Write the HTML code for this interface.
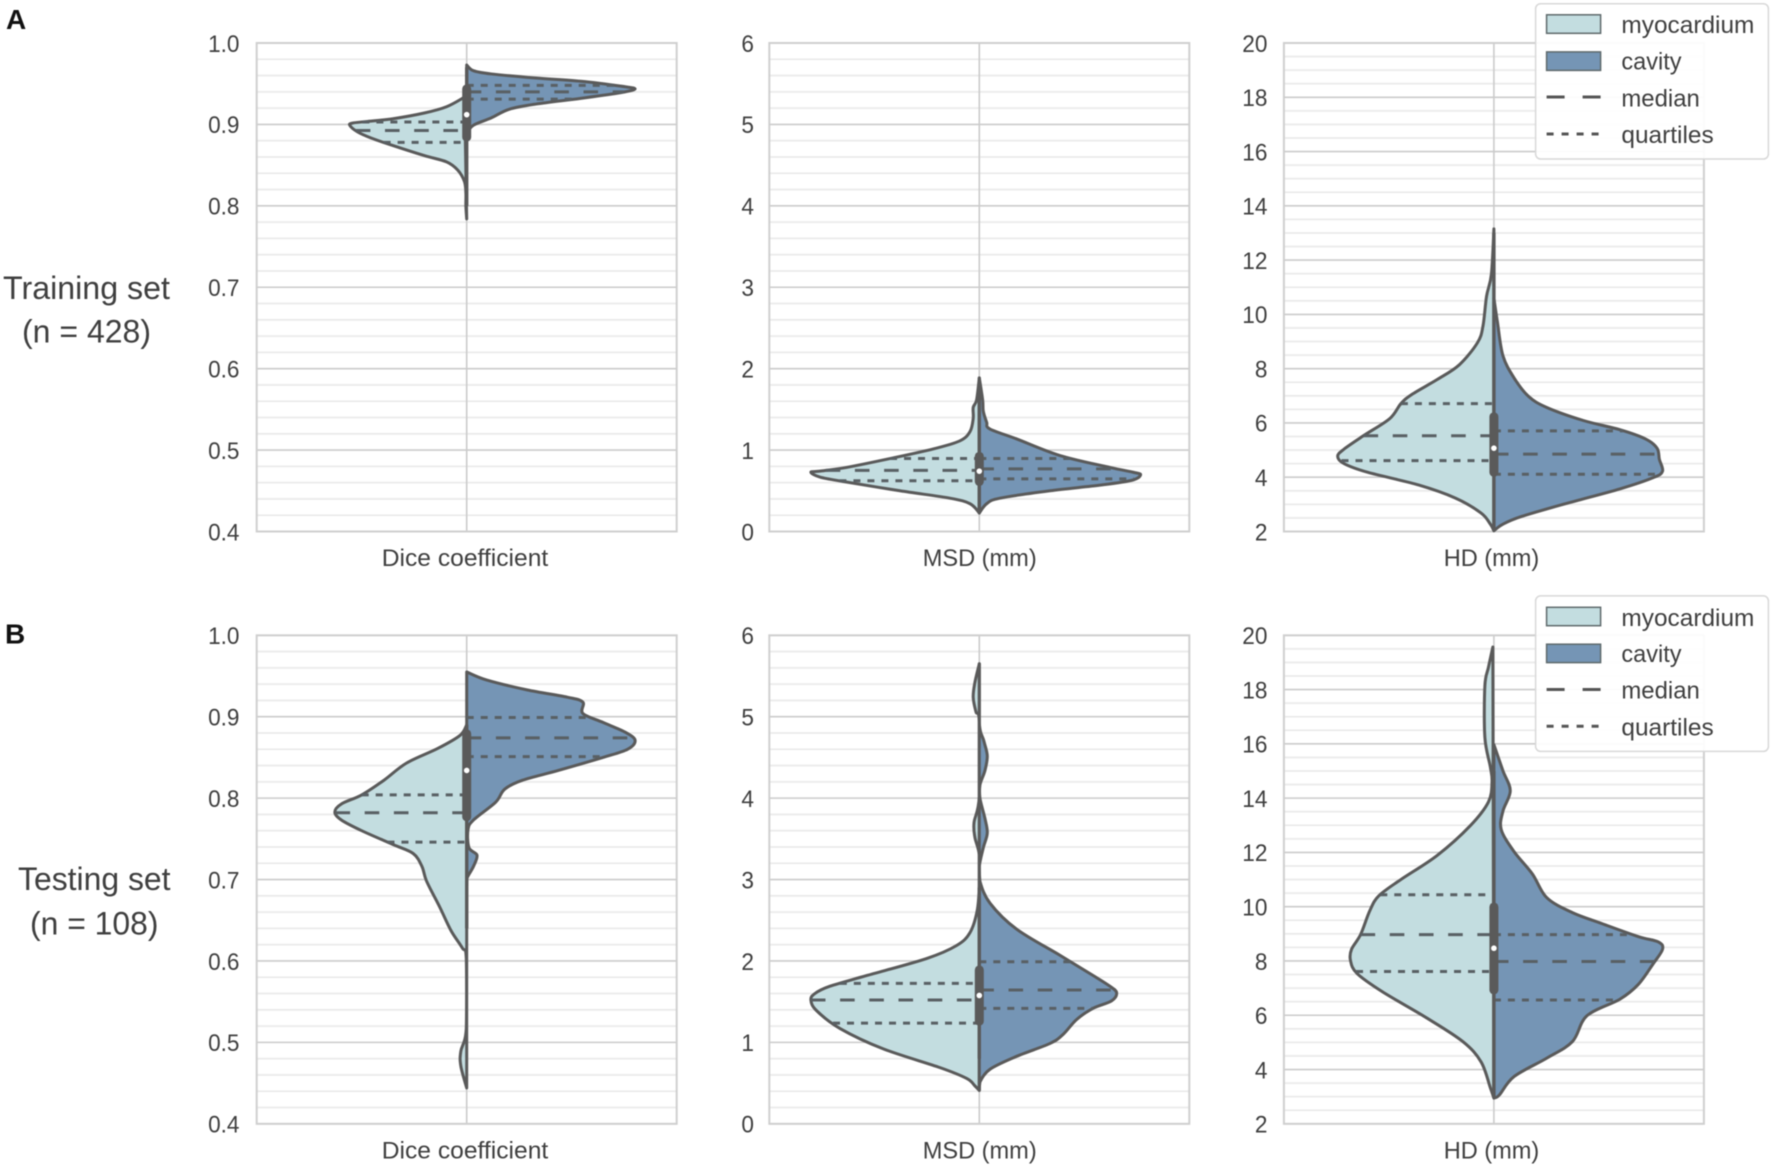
<!DOCTYPE html>
<html lang="en">
<head>
<meta charset="utf-8">
<title>Split violin plots of segmentation metrics</title>
<style>
  html, body { margin: 0; padding: 0; background: #fff; }
  svg { display: block; filter: blur(0.45px); }
  text { font-family: "Liberation Sans", sans-serif; fill: #3f3f3f; }
</style>
</head>
<body>
<svg id="chart" xmlns="http://www.w3.org/2000/svg" width="1772" height="1167" viewBox="0 0 1772 1167">
  <rect width="1772" height="1167" fill="#ffffff"/>
  <g id="panels"></g>

  <text x="6" y="29" font-size="28" font-weight="bold" style="fill:#111">A</text>
  <text x="5" y="643.5" font-size="28" font-weight="bold" style="fill:#111">B</text>

  <text x="3" y="299" font-size="32" textLength="167" lengthAdjust="spacingAndGlyphs">Training set</text>
  <text x="22" y="342.6" font-size="32" textLength="129" lengthAdjust="spacingAndGlyphs">(n = 428)</text>
  <text x="18" y="890" font-size="32" textLength="152.5" lengthAdjust="spacingAndGlyphs">Testing set</text>
  <text x="30" y="934.5" font-size="32" textLength="128.5" lengthAdjust="spacingAndGlyphs">(n = 108)</text>

  <g>
    <rect x="1535.6" y="3.7" width="232.8" height="155.3" rx="5" fill="#ffffff" fill-opacity="0.92" stroke="#d8d8d8" stroke-width="1.5"/>
    <rect x="1546.6" y="14.8" width="54" height="18.5" fill="#c3dde0" stroke="#5f6a6c" stroke-width="1.5"/>
    <rect x="1546.6" y="51.9" width="54" height="18.5" fill="#7595b5" stroke="#5f6a6c" stroke-width="1.5"/>
    <line x1="1546.6" x2="1600.6" y1="97" y2="97" stroke="#555" stroke-width="3" stroke-dasharray="18 18"/>
    <line x1="1546.6" x2="1600.6" y1="134" y2="134" stroke="#555" stroke-width="3" stroke-dasharray="7 8"/>
    <text x="1621.4" y="33" font-size="24" textLength="133" lengthAdjust="spacingAndGlyphs">myocardium</text>
    <text x="1621.4" y="69.6" font-size="24" textLength="60.2" lengthAdjust="spacingAndGlyphs">cavity</text>
    <text x="1621.4" y="106.6" font-size="24" textLength="78.4" lengthAdjust="spacingAndGlyphs">median</text>
    <text x="1621.4" y="143" font-size="24" textLength="92.3" lengthAdjust="spacingAndGlyphs">quartiles</text>
  </g>

  <g>
    <rect x="1535.6" y="595.9" width="232.8" height="155.5" rx="5" fill="#ffffff" fill-opacity="0.92" stroke="#d8d8d8" stroke-width="1.5"/>
    <rect x="1546.6" y="607.3" width="54" height="18.4" fill="#c3dde0" stroke="#5f6a6c" stroke-width="1.5"/>
    <rect x="1546.6" y="644.2" width="54" height="18.4" fill="#7595b5" stroke="#5f6a6c" stroke-width="1.5"/>
    <line x1="1546.6" x2="1600.6" y1="689.5" y2="689.5" stroke="#555" stroke-width="3" stroke-dasharray="18 18"/>
    <line x1="1546.6" x2="1600.6" y1="726.3" y2="726.3" stroke="#555" stroke-width="3" stroke-dasharray="7 8"/>
    <text x="1621.4" y="626" font-size="24" textLength="133" lengthAdjust="spacingAndGlyphs">myocardium</text>
    <text x="1621.4" y="661.8" font-size="24" textLength="60.2" lengthAdjust="spacingAndGlyphs">cavity</text>
    <text x="1621.4" y="698.6" font-size="24" textLength="78.4" lengthAdjust="spacingAndGlyphs">median</text>
    <text x="1621.4" y="735.5" font-size="24" textLength="92.3" lengthAdjust="spacingAndGlyphs">quartiles</text>
  </g>
</svg>

<script>
// ---- Tick labels ----
const diceTickLabels = ['0.4','0.5','0.6','0.7','0.8','0.9','1.0'];
const msdTickLabels = ['0','1','2','3','4','5','6'];
const hdTickLabels = ['2','4','6','8','10','12','14','16','18','20'];

// ---- Training set: Dice ----
const trainDiceMyoValues = [0.9336,0.9217,0.914,0.907,0.9035,0.9017,0.899,0.891,0.8835,0.874,0.8617,0.854,0.844,0.83,0.816,0.80,0.784];
const trainDiceMyoDensity = [0.01,0.096,0.202,0.351,0.479,0.543,0.557,0.521,0.457,0.351,0.202,0.096,0.043,0.011,0.004,0.004,0];
const trainDiceCavValues = [0.973,0.966,0.962,0.957,0.953,0.947,0.9436,0.939,0.932,0.925,0.9186,0.908,0.899,0.889];
const trainDiceCavDensity = [0,0.032,0.117,0.33,0.543,0.734,0.802,0.734,0.543,0.33,0.202,0.117,0.032,0];
const trainDiceMyoQuartiles = [0.878,0.8926,0.903];
const trainDiceCavQuartiles = [0.931,0.940,0.948];
const trainDiceBox = [0.8844,0.912,0.9436];
const trainDiceWhisker = [0.80,0.97];

// ---- Training set: MSD ----
const trainMsdMyoValues = [1.887,1.615,1.524,1.388,1.228,1.114,1.014,0.896,0.787,0.741,0.728,0.669,0.614,0.5,0.409,0.341,0.227];
const trainMsdMyoDensity = [0,0.013,0.029,0.029,0.044,0.092,0.219,0.425,0.632,0.759,0.802,0.759,0.648,0.378,0.14,0.044,0];
const trainMsdCavValues = [1.887,1.615,1.478,1.342,1.26,1.137,0.933,0.787,0.728,0.696,0.628,0.569,0.5,0.409,0.341,0.227];
const trainMsdCavDensity = [0,0.016,0.019,0.035,0.05,0.178,0.384,0.622,0.733,0.768,0.725,0.575,0.337,0.098,0.035,0];
const trainMsdMyoQuartiles = [0.623,0.751,0.896];
const trainMsdCavQuartiles = [0.646,0.769,0.896];
const trainMsdBox = [0.614,0.741,0.923];
const trainMsdWhisker = [0.26,1.85];

// ---- Training set: HD ----
const trainHdMyoValues = [13.15,11.48,10.67,9.57,8.96,8.14,7.6,7.05,6.71,6.16,5.55,5.04,4.77,4.5,4.18,3.71,3.23,2.68,2.27,2.03];
const trainHdMyoDensity = [0,0.012,0.035,0.052,0.078,0.165,0.27,0.391,0.443,0.496,0.617,0.713,0.744,0.713,0.6,0.357,0.183,0.061,0.017,0];
const trainHdCavValues = [10.6,9.71,8.48,7.66,6.98,6.57,6.09,5.75,5.41,5.07,4.66,4.22,3.98,3.57,3.02,2.55,2.27,2.03];
const trainHdCavDensity = [0,0.017,0.043,0.096,0.165,0.252,0.426,0.6,0.722,0.777,0.788,0.803,0.757,0.6,0.339,0.13,0.043,0];
const trainHdMyoQuartiles = [4.61,5.53,6.71];
const trainHdCavQuartiles = [4.11,4.85,5.71];
const trainHdBox = [4.18,5.07,6.23];
const trainHdWhisker = [2.03,13.0];

// ---- Testing set: Dice ----
const testDiceMyoValues = [0.89,0.877,0.861,0.843,0.822,0.804,0.793,0.783,0.773,0.76,0.743,0.732,0.716,0.698,0.666,0.637,0.616,0.603,0.517,0.489,0.471,0.444];
const testDiceMyoDensity = [0,0.032,0.138,0.287,0.394,0.5,0.596,0.628,0.596,0.5,0.351,0.255,0.213,0.191,0.128,0.074,0.021,0.002,0.002,0.028,0.028,0];
const testDiceCavValues = [0.955,0.945,0.933,0.924,0.918,0.904,0.893,0.881,0.871,0.86,0.85,0.834,0.822,0.811,0.795,0.773,0.761,0.739,0.73,0.716,0.702,0.693];
const testDiceCavDensity = [0,0.096,0.287,0.479,0.553,0.553,0.649,0.755,0.802,0.766,0.649,0.436,0.266,0.181,0.138,0.032,0.006,0.011,0.049,0.032,0.002,0];
const testDiceMyoQuartiles = [0.746,0.782,0.804];
const testDiceCavQuartiles = [0.851,0.874,0.899];
const testDiceBox = [0.777,0.834,0.879];
const testDiceWhisker = [0.64,0.89];

// ---- Testing set: MSD ----
const testMsdMyoValues = [5.65,5.42,5.24,5.06,4.93,4.02,3.7,3.52,3.3,2.93,2.62,2.35,2.19,2.03,1.82,1.69,1.6,1.52,1.39,1.17,0.92,0.69,0.557,0.466,0.41];
const testMsdMyoDensity = [0,0.021,0.029,0.016,0,0,0.025,0.021,0,0,0.01,0.044,0.108,0.251,0.537,0.711,0.783,0.802,0.775,0.663,0.457,0.187,0.06,0.021,0];
const testMsdCavValues = [5.65,4.93,4.7,4.52,4.34,4.16,4.0,3.75,3.57,3.39,3.16,2.98,2.71,2.39,2.07,1.82,1.69,1.61,1.51,1.42,1.28,1.10,0.987,0.829,0.67,0.512,0.41];
const testMsdCavDensity = [0,0,0.022,0.038,0.027,0.003,0.003,0.027,0.038,0.019,0,0.003,0.051,0.178,0.384,0.543,0.622,0.654,0.63,0.543,0.463,0.4,0.337,0.178,0.051,0.003,0];
const testMsdMyoQuartiles = [1.236,1.52,1.725];
const testMsdCavQuartiles = [1.417,1.644,1.99];
const testMsdBox = [1.26,1.576,1.89];
const testMsdWhisker = [0.8,2.9];

// ---- Testing set: HD ----
const testHdMyoValues = [19.57,18.82,18.14,16.24,15.15,14.6,13.86,12.98,11.89,11.0,10.4,9.85,8.97,8.43,8.02,7.54,6.86,5.91,5.03,4.28,3.33,2.95];
const testHdMyoDensity = [0.005,0.026,0.043,0.043,0.017,0.009,0.026,0.113,0.27,0.443,0.548,0.591,0.635,0.678,0.683,0.652,0.53,0.322,0.148,0.061,0.017,0];
const testHdCavValues = [15.97,15.01,14.27,13.52,12.84,12.03,11.21,10.33,9.78,9.38,8.9,8.7,8.43,7.88,7.13,6.59,5.98,5.03,4.42,3.74,3.06,2.95];
const testHdCavDensity = [0,0.043,0.078,0.043,0.035,0.096,0.183,0.252,0.374,0.513,0.687,0.783,0.803,0.757,0.687,0.6,0.443,0.374,0.252,0.096,0.026,0];
const testHdMyoQuartiles = [7.61,8.97,10.44];
const testHdCavQuartiles = [6.56,7.98,8.97];
const testHdBox = [6.93,8.47,9.99];
const testHdWhisker = [2.95,15.0];

// ---- Layout (not data) ----
const NS = 'http://www.w3.org/2000/svg';
const plotWidth = 420;
const plotHeight = 488.5;
const halfWidth = plotWidth / 2;
const columnLefts = [256.7, 769.3, 1283.9];
const rowTops = [43, 635.3];
const tickRight = [239.5, 754, 1267.5];
const labelBaselineGap = 34.5;
const LINE = '#5a5a5a';
const INNER = '#596064';

const metricDice = { key: 'dice', ticks: diceTickLabels, minorPerMajor: 5, label: 'Dice coefficient', labelWidth: 166.5, labelCenter: 465 };
const metricMsd = { key: 'msd', ticks: msdTickLabels, minorPerMajor: 5, label: 'MSD (mm)', labelWidth: 114, labelCenter: 979.7 };
const metricHd = { key: 'hd', ticks: hdTickLabels, minorPerMajor: 4, label: 'HD (mm)', labelWidth: 95.6, labelCenter: 1491.5 };

const panels = [
  { id: 'training-dice', row: 0, col: 0, metric: metricDice, myoV: trainDiceMyoValues, myoD: trainDiceMyoDensity, cavV: trainDiceCavValues, cavD: trainDiceCavDensity, myoQ: trainDiceMyoQuartiles, cavQ: trainDiceCavQuartiles, box: trainDiceBox, whisker: trainDiceWhisker },
  { id: 'training-msd', row: 0, col: 1, metric: metricMsd, myoV: trainMsdMyoValues, myoD: trainMsdMyoDensity, cavV: trainMsdCavValues, cavD: trainMsdCavDensity, myoQ: trainMsdMyoQuartiles, cavQ: trainMsdCavQuartiles, box: trainMsdBox, whisker: trainMsdWhisker },
  { id: 'training-hd', row: 0, col: 2, metric: metricHd, myoV: trainHdMyoValues, myoD: trainHdMyoDensity, cavV: trainHdCavValues, cavD: trainHdCavDensity, myoQ: trainHdMyoQuartiles, cavQ: trainHdCavQuartiles, box: trainHdBox, whisker: trainHdWhisker },
  { id: 'testing-dice', row: 1, col: 0, metric: metricDice, myoV: testDiceMyoValues, myoD: testDiceMyoDensity, cavV: testDiceCavValues, cavD: testDiceCavDensity, myoQ: testDiceMyoQuartiles, cavQ: testDiceCavQuartiles, box: testDiceBox, whisker: testDiceWhisker },
  { id: 'testing-msd', row: 1, col: 1, metric: metricMsd, myoV: testMsdMyoValues, myoD: testMsdMyoDensity, cavV: testMsdCavValues, cavD: testMsdCavDensity, myoQ: testMsdMyoQuartiles, cavQ: testMsdCavQuartiles, box: testMsdBox, whisker: testMsdWhisker },
  { id: 'testing-hd', row: 1, col: 2, metric: metricHd, myoV: testHdMyoValues, myoD: testHdMyoDensity, cavV: testHdCavValues, cavD: testHdCavDensity, myoQ: testHdMyoQuartiles, cavQ: testHdCavQuartiles, box: testHdBox, whisker: testHdWhisker }
];

// ---- Axis functions ----
function makeY(panel) {
  const nums = panel.metric.ticks.map(Number);
  const lo = nums[0];
  const hi = nums[nums.length - 1];
  const top = rowTops[panel.row];
  return function (v) { return top + (hi - v) / (hi - lo) * plotHeight; };
}
function makeX(panel) {
  const center = columnLefts[panel.col] + halfWidth;
  return function (side, d) { return center + side * d * halfWidth; };
}
function densityAt(values, density, v) {
  for (let i = 0; i < values.length - 1; i++) {
    if (v <= values[i] && v >= values[i + 1]) {
      const span = values[i] - values[i + 1];
      const t = span === 0 ? 0 : (values[i] - v) / span;
      return density[i] + (density[i + 1] - density[i]) * t;
    }
  }
  return 0;
}
function smoothPath(points, center, side) {
  // Catmull-Rom through the points; control x clamped so the curve stays on its own side.
  let d = 'M' + points[0][0].toFixed(2) + ' ' + points[0][1].toFixed(2);
  for (let i = 0; i < points.length - 1; i++) {
    const p0 = points[Math.max(i - 1, 0)];
    const p1 = points[i];
    const p2 = points[i + 1];
    const p3 = points[Math.min(i + 2, points.length - 1)];
    let c1x = p1[0] + (p2[0] - p0[0]) / 6;
    const c1y = p1[1] + (p2[1] - p0[1]) / 6;
    let c2x = p2[0] - (p3[0] - p1[0]) / 6;
    const c2y = p2[1] - (p3[1] - p1[1]) / 6;
    if ((c1x - center) * side < 0) c1x = center;
    if ((c2x - center) * side < 0) c2x = center;
    d += 'C' + c1x.toFixed(2) + ' ' + c1y.toFixed(2) + ' ' + c2x.toFixed(2) + ' ' + c2y.toFixed(2) + ' ' + p2[0].toFixed(2) + ' ' + p2[1].toFixed(2);
  }
  return d + 'Z';
}
function tickTextWidth(label) {
  let w = 0;
  for (const ch of label) { w += ch === '.' ? 6.2 : 12.6; }
  return w;
}

const root = document.getElementById('panels');

panels.forEach(function (panel) {
  const y = makeY(panel);
  const x = makeX(panel);
  const left = columnLefts[panel.col];
  const right = left + plotWidth;
  const top = rowTops[panel.row];
  const bottom = top + plotHeight;
  const center = left + halfWidth;
  const nums = panel.metric.ticks.map(Number);

  const g = document.createElementNS(NS, 'g');
  
  
  root.appendChild(g);

  // minor grid
  for (let i = 0; i < nums.length - 1; i++) {
    for (let j = 1; j < panel.metric.minorPerMajor; j++) {
      const v = nums[i] + (nums[i + 1] - nums[i]) * j / panel.metric.minorPerMajor;
      const minor = document.createElementNS(NS, 'line');
      
      
      minor.setAttribute('x1', left);
      minor.setAttribute('x2', right);
      minor.setAttribute('y1', y(v));
      minor.setAttribute('y2', y(v));
      minor.setAttribute('stroke', '#ebebeb');
      minor.setAttribute('stroke-width', '1.8');
      g.appendChild(minor);
    }
  }

  // major grid and tick labels
  panel.metric.ticks.forEach(function (label, i) {
    const major = document.createElementNS(NS, 'line');
    
    
    major.setAttribute('x1', left);
    major.setAttribute('x2', right);
    major.setAttribute('y1', y(nums[i]));
    major.setAttribute('y2', y(nums[i]));
    major.setAttribute('stroke', '#cbcbcb');
    major.setAttribute('stroke-width', '1.6');
    g.appendChild(major);

    const tick = document.createElementNS(NS, 'text');
    
    
    tick.setAttribute('x', tickRight[panel.col]);
    tick.setAttribute('y', y(nums[i]) + 8.8);
    tick.setAttribute('text-anchor', 'end');
    tick.setAttribute('font-size', '24.5');
    tick.setAttribute('textLength', tickTextWidth(label));
    tick.setAttribute('lengthAdjust', 'spacingAndGlyphs');
    tick.textContent = label;
    g.appendChild(tick);
  });

  // vertical category gridline
  const vgrid = document.createElementNS(NS, 'line');
  
  
  vgrid.setAttribute('x1', center);
  vgrid.setAttribute('x2', center);
  vgrid.setAttribute('y1', top);
  vgrid.setAttribute('y2', bottom);
  vgrid.setAttribute('stroke', '#cbcbcb');
  vgrid.setAttribute('stroke-width', '1.6');
  g.appendChild(vgrid);

  // frame
  const frame = document.createElementNS(NS, 'rect');
  
  
  frame.setAttribute('x', left);
  frame.setAttribute('y', top);
  frame.setAttribute('width', plotWidth);
  frame.setAttribute('height', plotHeight);
  frame.setAttribute('fill', 'none');
  frame.setAttribute('stroke', '#cfcfcf');
  frame.setAttribute('stroke-width', '2');
  g.appendChild(frame);

  // x axis label
  const xLabel = document.createElementNS(NS, 'text');
  
  
  xLabel.setAttribute('x', panel.metric.labelCenter - panel.metric.labelWidth / 2);
  xLabel.setAttribute('y', bottom + labelBaselineGap);
  xLabel.setAttribute('font-size', '24');
  xLabel.setAttribute('textLength', panel.metric.labelWidth);
  xLabel.setAttribute('lengthAdjust', 'spacingAndGlyphs');
  xLabel.textContent = panel.metric.label;
  g.appendChild(xLabel);

  // violin halves
  const sides = [
    { name: 'myocardium', side: -1, v: panel.myoV, d: panel.myoD, q: panel.myoQ, fill: '#c3dde0' },
    { name: 'cavity', side: 1, v: panel.cavV, d: panel.cavD, q: panel.cavQ, fill: '#7595b5' }
  ];
  sides.forEach(function (s) {
    const pts = s.v.map(function (val, i) { return [x(s.side, s.d[i]), y(val)]; });
    const path = document.createElementNS(NS, 'path');
    
    
    path.setAttribute('d', smoothPath(pts, center, s.side));
    path.setAttribute('fill', s.fill);
    path.setAttribute('stroke', LINE);
    path.setAttribute('stroke-width', '3');
    path.setAttribute('stroke-linejoin', 'round');
    g.appendChild(path);
  });

  // quartile and median lines
  sides.forEach(function (s) {
    s.q.forEach(function (val, i) {
      const isMedian = i === 1;
      const reach = densityAt(s.v, s.d, val);
      const line = document.createElementNS(NS, 'line');
      
      
      line.setAttribute('x1', s.side < 0 ? x(s.side, reach) : center);
      line.setAttribute('x2', s.side < 0 ? center : x(s.side, reach));
      line.setAttribute('y1', y(val));
      line.setAttribute('y2', y(val));
      line.setAttribute('stroke', INNER);
      line.setAttribute('stroke-width', '3');
      line.setAttribute('stroke-dasharray', isMedian ? '14.6 14.6' : '7 7');
      g.appendChild(line);
    });
  });

  // inner box
  const whisker = document.createElementNS(NS, 'line');
  
  
  whisker.setAttribute('x1', center);
  whisker.setAttribute('x2', center);
  whisker.setAttribute('y1', y(panel.whisker[0]));
  whisker.setAttribute('y2', y(panel.whisker[1]));
  whisker.setAttribute('stroke', LINE);
  whisker.setAttribute('stroke-width', '3.4');
  g.appendChild(whisker);

  const box = document.createElementNS(NS, 'line');
  
  
  box.setAttribute('x1', center);
  box.setAttribute('x2', center);
  box.setAttribute('y1', y(panel.box[0]));
  box.setAttribute('y2', y(panel.box[2]));
  box.setAttribute('stroke', LINE);
  box.setAttribute('stroke-width', '9');
  box.setAttribute('stroke-linecap', 'round');
  g.appendChild(box);

  const dot = document.createElementNS(NS, 'circle');
  
  
  dot.setAttribute('cx', center);
  dot.setAttribute('cy', y(panel.box[1]));
  dot.setAttribute('r', '2.8');
  dot.setAttribute('fill', '#ffffff');
  g.appendChild(dot);
});
</script>
</body>
</html>
